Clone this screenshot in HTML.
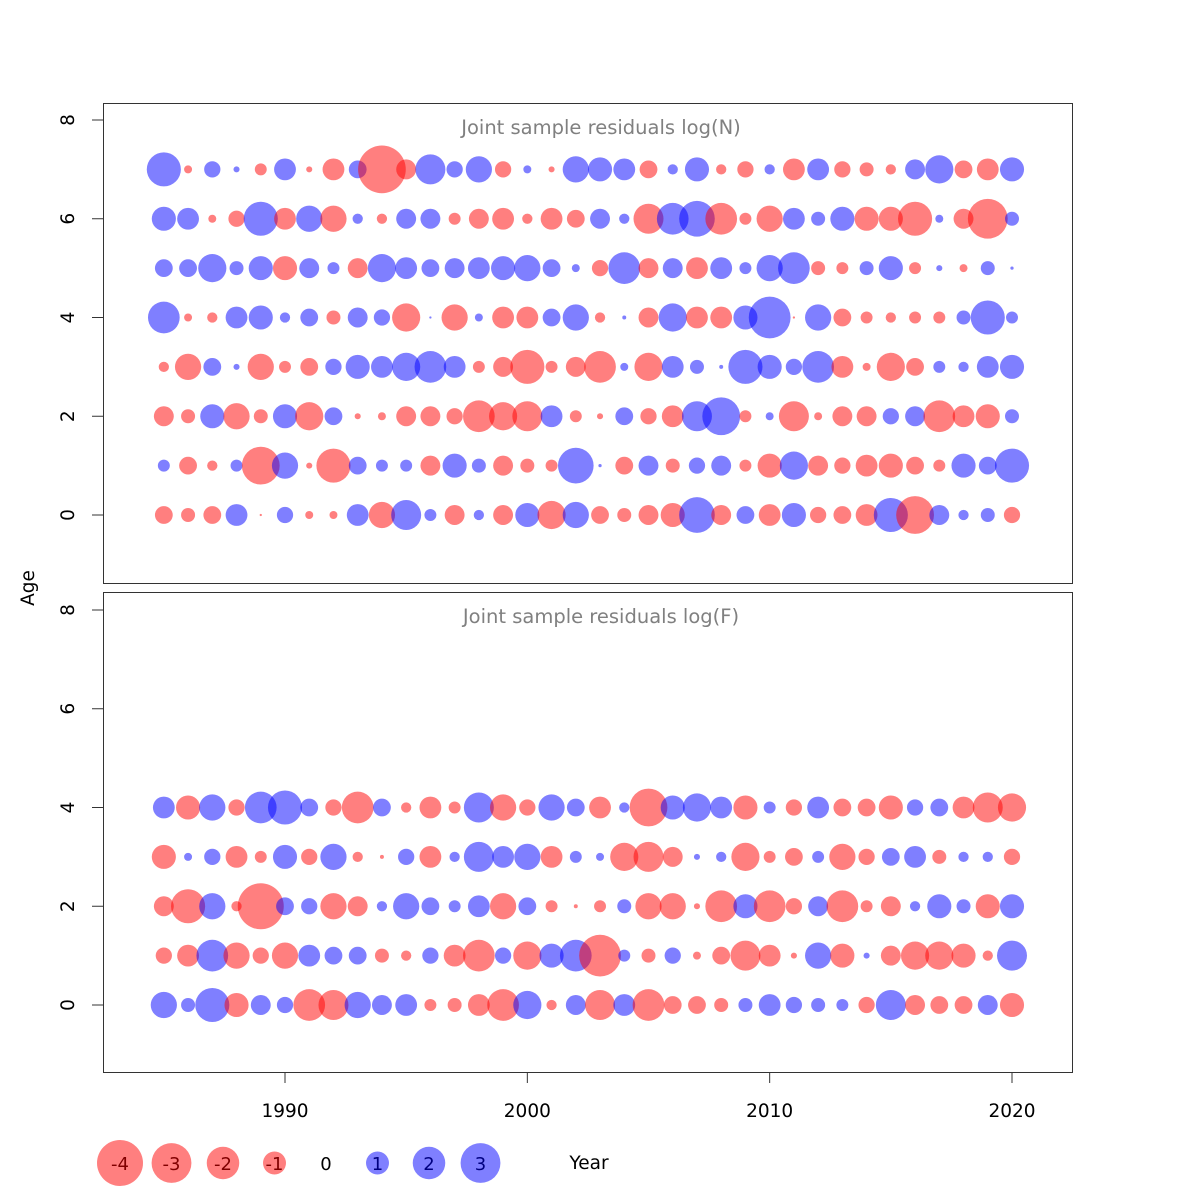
<!DOCTYPE html>
<html><head><meta charset="utf-8"><style>
html,body{margin:0;padding:0;background:#fff;}
svg{display:block;font-family:"DejaVu Sans","Liberation Sans",sans-serif;}
</style></head><body>
<svg id="chart" width="1200" height="1200" viewBox="0 0 1200 1200" xmlns="http://www.w3.org/2000/svg">
<rect width="1200" height="1200" fill="#fff"/>
</svg>
<script>
const years = [1985,1986,1987,1988,1989,1990,1991,1992,1993,1994,1995,1996,1997,1998,1999,2000,2001,2002,2003,2004,2005,2006,2007,2008,2009,2010,2011,2012,2013,2014,2015,2016,2017,2018,2019,2020];
const xTicks = [1990,2000,2010,2020];
const yTicks = [0,2,4,6,8];
const legendValues = [-4,-3,-2,-1,0,1,2,3];

const nAge7 = [2.2,-0.12,0.5,0.07,-0.27,0.9,-0.07,-0.9,0.6,-4.3,-0.75,1.7,0.5,1.3,-0.5,0.12,-0.07,1.3,1.1,0.9,-0.6,0.2,1.1,-0.2,-0.5,0.2,-0.9,0.9,-0.5,-0.37,-0.2,0.75,1.5,-0.6,-0.9,1.1];
const nAge6 = [1.1,0.9,-0.12,-0.5,2.2,-0.9,1.3,-1.3,0.2,-0.2,0.75,0.75,-0.27,-0.75,-0.9,-0.2,-0.9,-0.6,0.75,0.2,-1.7,1.9,2.4,-1.9,-0.27,-1.3,0.9,0.37,1.1,-1.1,-1.1,-2.2,0.12,-0.75,-3.0,0.37];
const nAge5 = [0.6,0.6,1.5,0.37,1.1,-1.1,0.75,0.27,-0.75,1.5,0.9,0.6,0.75,0.9,1.1,1.3,0.6,0.12,-0.5,1.9,-0.75,0.75,-0.9,0.9,0.27,1.3,1.9,-0.37,-0.27,0.37,1.1,-0.27,0.07,-0.12,0.37,0.02];
const nAge4 = [1.9,-0.12,-0.2,0.9,1.1,0.2,0.6,-0.37,0.75,0.5,-1.5,0.01,-1.3,0.12,-0.9,-0.9,0.6,1.3,-0.2,0.03,-0.75,1.5,-0.9,-0.9,1.1,3.3,-0.01,1.3,-0.6,-0.27,-0.2,-0.27,-0.27,0.37,2.2,0.27];
const nAge3 = [-0.2,-1.3,0.6,0.07,-1.3,-0.27,-0.6,0.5,1.1,0.9,1.5,1.9,0.9,-0.27,-0.75,-2.2,-0.27,-0.75,-1.9,0.12,-1.5,0.9,0.37,0.03,2.2,1.1,0.5,1.9,-0.9,-0.12,-1.5,-0.6,0.27,0.2,0.9,1.1];
const nAge2 = [-0.75,-0.37,1.1,-1.3,-0.37,1.1,-1.5,0.6,-0.07,-0.12,-0.75,-0.75,-0.5,-1.9,-1.5,-1.7,0.9,-0.27,-0.07,0.6,-0.5,-0.9,1.7,2.7,-0.27,0.12,-1.7,-0.12,-0.75,-0.75,0.5,0.75,-1.9,-0.9,-1.1,0.37];
const nAge1 = [0.27,-0.6,-0.2,0.27,-2.7,1.3,-0.07,-2.2,0.6,0.27,0.27,-0.75,1.1,0.37,-0.75,-0.37,-0.27,2.4,0.02,-0.6,0.75,-0.37,0.5,0.75,-0.27,-1.1,1.5,-0.75,-0.5,-0.9,-1.1,-0.6,-0.27,1.1,0.6,2.2];
const nAge0 = [-0.6,-0.37,-0.6,0.9,-0.01,0.5,-0.12,-0.12,0.9,-1.3,1.7,0.27,-0.75,0.2,-0.75,1.1,-1.5,1.3,-0.6,-0.37,-0.75,-1.1,2.4,-0.75,0.6,-0.9,1.1,-0.5,-0.6,-0.9,2.2,-2.7,0.75,0.2,0.37,-0.5];

const fAge4 = [0.9,-1.1,1.3,-0.5,1.9,2.2,0.6,-0.5,-1.9,0.6,-0.2,-0.9,-0.27,1.7,-1.3,-0.5,1.3,0.6,-0.9,0.2,-2.7,1.1,1.5,0.9,-1.1,0.27,-0.5,0.9,-0.6,-0.6,-1.1,0.5,0.6,-0.9,-1.7,-1.5];
const fAge3 = [-1.1,0.12,0.5,-0.9,-0.27,1.1,-0.5,1.3,-0.2,-0.03,0.5,-0.9,0.2,1.7,0.9,1.3,-0.9,0.27,0.12,-1.5,-1.7,-0.75,0.07,0.2,-1.5,-0.27,-0.6,0.27,-1.3,-0.5,0.6,0.9,-0.37,0.2,0.2,-0.5];
const fAge2 = [-0.75,-2.2,1.3,-0.2,-4.0,0.6,0.5,-1.3,-0.75,0.2,1.3,0.6,0.27,0.9,-1.3,0.6,-0.27,-0.03,-0.27,0.37,-1.3,-1.3,-0.07,-1.9,1.1,-1.9,-0.5,0.75,-1.9,-0.27,-0.75,0.2,1.1,0.37,-1.1,1.1];
const fAge1 = [-0.5,-0.9,1.9,-1.3,-0.5,-1.3,0.9,0.6,0.6,-0.37,-0.2,0.5,-0.9,-1.9,0.5,-1.5,1.1,1.9,-3.3,0.27,-0.37,0.5,-0.12,-0.6,-1.7,-0.9,-0.07,1.3,-1.1,0.07,-0.75,-1.5,-1.5,-1.1,-0.2,1.7];
const fAge0 = [1.3,0.37,2.2,-1.1,0.75,0.5,-1.9,-1.7,1.3,0.75,0.9,-0.27,-0.37,-0.9,-1.9,1.5,-0.2,0.75,-1.7,0.9,-1.9,-0.6,-0.6,-0.37,0.37,0.9,0.5,0.37,0.27,-0.5,1.7,-0.75,-0.6,-0.6,0.75,-1.1];

const nRows = [nAge0,nAge1,nAge2,nAge3,nAge4,nAge5,nAge6,nAge7];
const fRows = [fAge0,fAge1,fAge2,fAge3,fAge4];

const NS = "http://www.w3.org/2000/svg";
const svg = document.getElementById('chart');
const K = 11.5;
function xScale(yr){ return 285 + (yr-1990)*(1012-285)/30; }
function rScale(v){ return K*Math.sqrt(Math.abs(v)); }
function mk(tag, attrs, parent){
  const e = document.createElementNS(NS, tag);
  for (const k in attrs) e.setAttribute(k, attrs[k]);
  (parent||svg).appendChild(e);
  return e;
}
const panels = [
  {top:103, bottom:583, zeroY:515, title:"Joint sample residuals log(N)", rows:nRows, name:"n"},
  {top:592, bottom:1072, zeroY:1005, title:"Joint sample residuals log(F)", rows:fRows, name:"f"}
];
panels.forEach(p => {
  const yScale = a => p.zeroY - a*(395/8);
  const g = mk('g', {});
  
  
  const frame = mk('rect', {x:103.5, y:p.top+0.5, width:969, height:p.bottom-p.top, fill:'none', stroke:'#333', 'stroke-width':1}, g);
  
  
  yTicks.forEach(t => {
    const y = yScale(t);
    const tk = mk('line', {x1:92, x2:103, y1:y, y2:y, stroke:'#333', 'stroke-width':1}, g);
    
    
    const lb = mk('text', {x:74, y:y, 'font-size':18.5, 'text-anchor':'middle', transform:`rotate(-90 74 ${y})`, fill:'#000'}, g);
    lb.textContent = t;
    
    
  });
  const ttl = mk('text', {x:601, y:p.top+31, 'font-size':19.5, 'text-anchor':'middle', fill:'#808080'}, g);
  ttl.textContent = p.title;
  
  
  p.rows.forEach((row, age) => {
    row.forEach((v, i) => {
      const c = mk('circle', {cx:xScale(years[i]), cy:yScale(age), r:rScale(v), fill: v<0 ? 'rgba(255,0,0,0.5)' : 'rgba(0,0,255,0.5)'}, g);
      
      
    });
  });
});
xTicks.forEach(t => {
  const x = xScale(t);
  const tk = mk('line', {x1:x, x2:x, y1:1072, y2:1083, stroke:'#333', 'stroke-width':1});
  
  
  const lb = mk('text', {x:x, y:1117, 'font-size':18.5, 'text-anchor':'middle', fill:'#000'});
  lb.textContent = t;
  
  
});
const ageLbl = mk('text', {x:34, y:588, 'font-size':18.5, 'text-anchor':'middle', transform:'rotate(-90 34 588)', fill:'#000'});
ageLbl.textContent = 'Age';


const yearLbl = mk('text', {x:589, y:1169, 'font-size':18.5, 'text-anchor':'middle', fill:'#000'});
yearLbl.textContent = 'Year';


legendValues.forEach((v, i) => {
  const x = 120 + i*51.5;
  if (v !== 0) {
    const c = mk('circle', {cx:x, cy:1163, r:rScale(v), fill: v<0 ? 'rgba(255,0,0,0.5)' : 'rgba(0,0,255,0.5)'});
    
    
  }
  const t = mk('text', {x:x, y:1170, 'font-size':18, 'text-anchor':'middle', fill: v<0 ? '#800000' : (v>0 ? '#000080' : '#000')});
  t.textContent = v;
  
  
});
</script>
</body></html>
